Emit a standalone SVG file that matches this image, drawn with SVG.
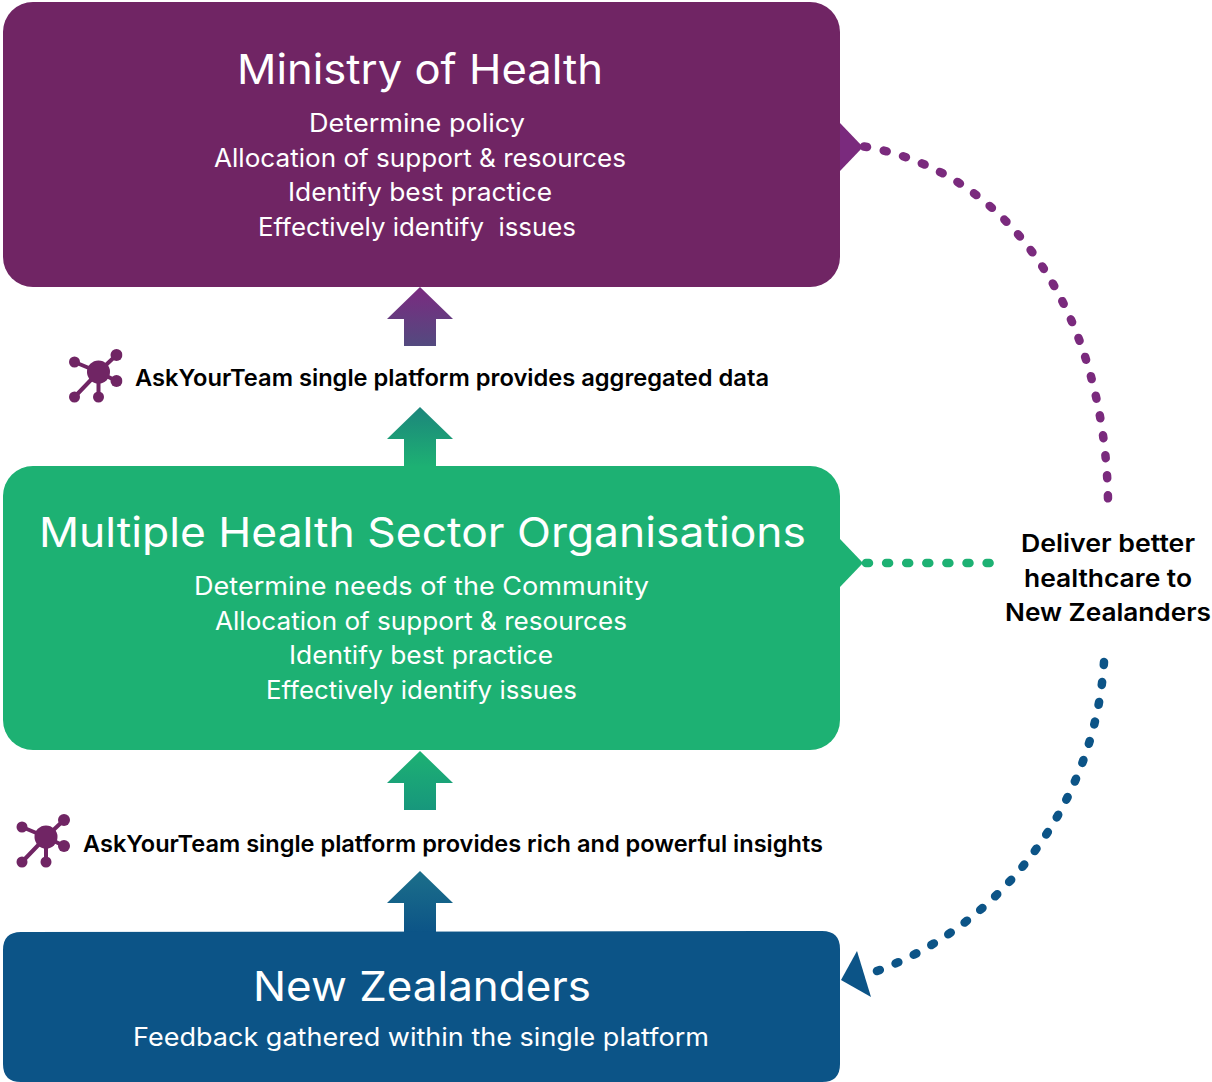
<svg xmlns="http://www.w3.org/2000/svg" width="1212" height="1082" viewBox="0 0 1212 1082">
<style>
text{font-family:"Inter","Open Sans","Liberation Sans",sans-serif;white-space:pre}
.h{font-size:41px;fill:#fff;font-weight:400}
.b{font-size:25px;fill:#fff;font-weight:400}
.k{font-size:23px;fill:#000;font-weight:600}
.d{font-size:24.5px;fill:#000;font-weight:600}
.dot{fill:none;stroke-width:8.500;stroke-linecap:round;stroke-dasharray:3 17.100}
</style>
<defs>
<linearGradient id="g1" x1="0" y1="0" x2="0" y2="1"><stop offset="0" stop-color="#7b2a80"/><stop offset="1" stop-color="#534a7f"/></linearGradient>
<linearGradient id="g2" x1="0" y1="0" x2="0" y2="1"><stop offset="0" stop-color="#1c857b"/><stop offset="1" stop-color="#1db173"/></linearGradient>
<linearGradient id="g3" x1="0" y1="0" x2="0" y2="1"><stop offset="0" stop-color="#1db173"/><stop offset="1" stop-color="#17977c"/></linearGradient>
<linearGradient id="g4" x1="0" y1="0" x2="0" y2="1"><stop offset="0" stop-color="#1c6f8a"/><stop offset="1" stop-color="#0c5487"/></linearGradient>
<clipPath id="ic"><rect x="-32" y="-26" width="56" height="60"/></clipPath>
<g id="net" clip-path="url(#ic)" fill="#702564" stroke="#702564">
<path d="M0 0L-24-10M0 0L18-17M0 0L18 9M0 0L-24 25M0 0V25" stroke-width="4" fill="none"/>
<circle r="11.500" stroke="none"/>
<circle cx="-24" cy="-10" r="5.500" stroke="none"/>
<circle cx="18" cy="-17" r="6" stroke="none"/>
<circle cx="18" cy="9" r="6" stroke="none"/>
<circle cx="-24" cy="25" r="5.500" stroke="none"/>
<circle cx="0" cy="25" r="5.500" stroke="none"/>
</g>
</defs>
<g id="connectors">
<path id="arrow-a1" d="M420 287L453 319H436V346H404V319H387Z" fill="url(#g1)"/>
<path id="arrow-a2" d="M420 407L453 439H436V467H404V439H387Z" fill="url(#g2)"/>
<path id="arrow-a3" d="M420 751L453 783H436V810H404V783H387Z" fill="url(#g3)"/>
<path id="arrow-a4" d="M420 871L453 903H436V933H404V903H387Z" fill="url(#g4)"/>
<path d="M840 123L863 147L840 171Z" fill="#7a2a7d"/>
<path class="dot" stroke="#7a2a7d" d="M864 146.500C1015 172 1105 320 1108 500"/>
<path d="M840 539L863 563L840 587Z" fill="#1db173"/>
<path class="dot" stroke="#1db173" d="M866 563H990"/>
<path class="dot" stroke="#0c5487" d="M1104 662C1095 800 1005 925 873 972.500"/>
<path d="M841 980L857 951L871 997Z" fill="#0c5487"/>
</g>
<g id="ministry">
<rect x="3" y="2" width="837" height="285" rx="30" fill="#702564"/>
<text class="h" x="237" y="84" textLength="366" lengthAdjust="spacingAndGlyphs">Ministry of Health</text>
<text class="b" x="309" y="132" textLength="216" lengthAdjust="spacingAndGlyphs">Determine policy</text>
<text class="b" x="214" y="167" textLength="412" lengthAdjust="spacingAndGlyphs">Allocation of support &amp; resources</text>
<text class="b" x="288" y="201" textLength="264" lengthAdjust="spacingAndGlyphs">Identify best practice</text>
<text class="b" x="258" y="236" textLength="318" lengthAdjust="spacingAndGlyphs">Effectively identify  issues</text>
</g>
<g id="sector">
<rect x="3" y="466" width="837" height="284" rx="30" fill="#1db173"/>
<text class="h" x="39" y="547" textLength="767" lengthAdjust="spacingAndGlyphs">Multiple Health Sector Organisations</text>
<text class="b" x="194" y="595" textLength="455" lengthAdjust="spacingAndGlyphs">Determine needs of the Community</text>
<text class="b" x="215" y="630" textLength="412" lengthAdjust="spacingAndGlyphs">Allocation of support &amp; resources</text>
<text class="b" x="289" y="664" textLength="264" lengthAdjust="spacingAndGlyphs">Identify best practice</text>
<text class="b" x="266" y="699" textLength="311" lengthAdjust="spacingAndGlyphs">Effectively identify issues</text>
</g>
<g id="zealanders">
<path d="M21 932L822 931Q840 931 840 949V1064Q840 1082 822 1082H21Q3 1082 3 1064V950Q3 932 21 932Z" fill="#0c5487"/>
<text class="h" x="253" y="1001" textLength="338" lengthAdjust="spacingAndGlyphs">New Zealanders</text>
<text class="b" x="133" y="1046" textLength="576" lengthAdjust="spacingAndGlyphs">Feedback gathered within the single platform</text>
</g>
<g id="label-aggregated">
<use href="#net" x="98.500" y="372"/>
<text class="k" x="135" y="386" textLength="634" lengthAdjust="spacingAndGlyphs">AskYourTeam single platform provides aggregated data</text>
</g>
<g id="label-insights">
<use href="#net" x="46" y="837"/>
<text class="k" x="83" y="852" textLength="740" lengthAdjust="spacingAndGlyphs">AskYourTeam single platform provides rich and powerful insights</text>
</g>
<g id="deliver">
<text class="d" x="1021" y="552" textLength="174" lengthAdjust="spacingAndGlyphs">Deliver better</text>
<text class="d" x="1024" y="587" textLength="168" lengthAdjust="spacingAndGlyphs">healthcare to</text>
<text class="d" x="1005" y="621" textLength="206" lengthAdjust="spacingAndGlyphs">New Zealanders</text>
</g>
</svg>
